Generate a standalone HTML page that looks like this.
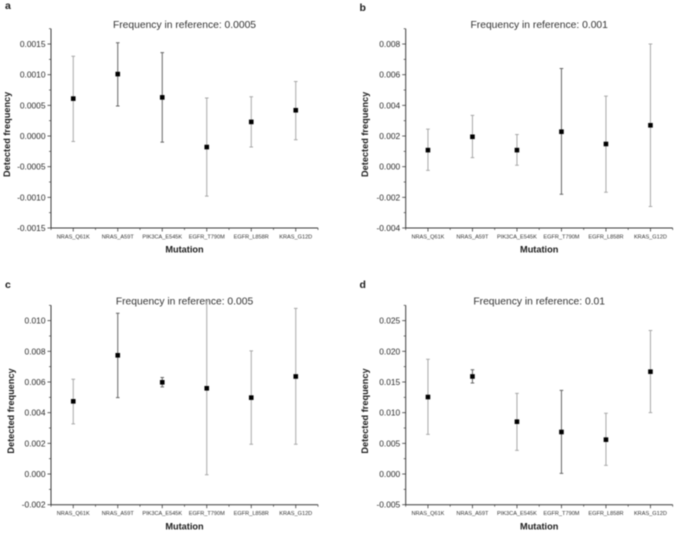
<!DOCTYPE html>
<html>
<head>
<meta charset="utf-8">
<title>Detected frequency by mutation</title>
<style>
html,body{margin:0;padding:0;background:#fff;width:675px;height:533px;overflow:hidden}
svg{display:block;filter:blur(0.4px)}
text{font-family:"Liberation Sans",Arial,sans-serif;fill:#1c1c1c}
</style>
</head>
<body>
<svg id="figure" width="675" height="533" viewBox="0 0 675 533" xmlns="http://www.w3.org/2000/svg"></svg>
<script>
const categories = ["NRAS_Q61K","NRAS_A59T","PIK3CA_E545K","EGFR_T790M","EGFR_L858R","KRAS_G12D"];

const aTicks = ["-0.0015","-0.0010","-0.0005","0.0000","0.0005","0.0010","0.0015"];
const aMeans = [0.00061,0.00101,0.00063,-0.00018,0.00023,0.00042];
const aUpper = [0.00130,0.00152,0.00136,0.00062,0.00064,0.00089];
const aLower = [-0.00009,0.00049,-0.00010,-0.00098,-0.00018,-0.00006];

const bTicks = ["-0.004","-0.002","0.000","0.002","0.004","0.006","0.008"];
const bMeans = [0.00108,0.00195,0.00108,0.00228,0.00148,0.00270];
const bUpper = [0.00245,0.00335,0.00210,0.00640,0.00460,0.00800];
const bLower = [-0.00024,0.00059,0.00009,-0.00180,-0.00167,-0.00260];

const cTicks = ["-0.002","0.000","0.002","0.004","0.006","0.008","0.010"];
const cMeans = [0.00474,0.00774,0.00598,0.00559,0.00498,0.00636];
const cUpper = [0.00618,0.01048,0.00629,0.01127,0.00803,0.01080];
const cLower = [0.00327,0.00498,0.00568,-0.00005,0.00194,0.00194];

const dTicks = ["-0.005","0.000","0.005","0.010","0.015","0.020","0.025"];
const dMeans = [0.01255,0.01590,0.00853,0.00685,0.00560,0.01668];
const dUpper = [0.01870,0.01700,0.01315,0.01364,0.00990,0.02340];
const dLower = [0.00647,0.01484,0.00386,0.00010,0.00140,0.01000];

const svgNS = "http://www.w3.org/2000/svg";
const root = document.getElementById("figure");

function make(tag, attrs, parent, txt) {
  const el = document.createElementNS(svgNS, tag);
  for (const k in attrs) el.setAttribute(k, attrs[k]);
  if (txt !== undefined) el.textContent = txt;
  parent.appendChild(el);
  return el;
}

function drawPanel(id, letter, lx, ly, title, box, ticks, means, upper, lower, shades, yTitleX) {
  const g = make("g", {}, root);
  
  

  const tickVals = ticks.map(Number);
  const step = tickVals[1] - tickVals[0];
  const yMin = tickVals[0];
  const yMax = tickVals[tickVals.length - 1] + step / 2;
  const yScale = v => box.bottom - (v - yMin) / (yMax - yMin) * (box.bottom - box.top);
  const xScale = i => box.left + (i + 0.5) * (box.right - box.left) / categories.length;
  const xEdge = i => box.left + i * (box.right - box.left) / categories.length;
  const axisColor = "#3c3c3c";
  const centerX = (box.left + box.right) / 2;

  const letterEl = make("text", {x: lx, y: ly, "font-size": 10.5, "font-weight": "bold"}, g, letter);
  
  

  const titleEl = make("text", {x: centerX, y: box.top - 0.7, "font-size": 10.3, "text-anchor": "middle", style: "fill:#333"}, g, title);
  
  

  const yAxis = make("line", {x1: box.left, x2: box.left, y1: box.top, y2: box.bottom + 0.5, stroke: axisColor, "stroke-width": 1}, g);
  
  

  const xAxis = make("line", {x1: box.left, x2: box.right, y1: box.bottom, y2: box.bottom, stroke: axisColor, "stroke-width": 1}, g);
  
  

  tickVals.forEach((v, i) => {
    const y = yScale(v);
    const t = make("line", {x1: box.left - 3.5, x2: box.left, y1: y, y2: y, stroke: axisColor, "stroke-width": 0.8}, g);
    
    
    const lab = make("text", {x: box.left - 5.5, y: y + 3, "font-size": 8.4, "text-anchor": "end", style: "fill:#2a2a2a"}, g, ticks[i]);
    
    
    const my = yScale(v + step / 2);
    const m = make("line", {x1: box.left - 2, x2: box.left, y1: my, y2: my, stroke: axisColor, "stroke-width": 0.7}, g);
    
    
  });

  for (let i = 0; i <= categories.length; i++) {
    const m = make("line", {x1: xEdge(i), x2: xEdge(i), y1: box.bottom, y2: box.bottom + 2, stroke: axisColor, "stroke-width": 0.7}, g);
    
    
  }

  categories.forEach((c, i) => {
    const x = xScale(i);
    const t = make("line", {x1: x, x2: x, y1: box.bottom, y2: box.bottom + 3.5, stroke: axisColor, "stroke-width": 0.8}, g);
    
    
    const lab = make("text", {x: x, y: box.bottom + 10.5, "font-size": 5.6, "text-anchor": "middle", style: "fill:#333"}, g, c);
    
    

    const yu = yScale(upper[i]), yl = yScale(lower[i]);
    const bar = make("path", {
      d: "M" + x + " " + yu + "V" + yl + "M" + (x - 1.8) + " " + yu + "H" + (x + 1.8) + "M" + (x - 1.8) + " " + yl + "H" + (x + 1.8),
      stroke: shades[i], "stroke-width": 1, fill: "none"
    }, g);
    
    

    const pt = make("rect", {x: x - 2.3, y: yScale(means[i]) - 2.3, width: 4.6, height: 4.6, fill: "#000"}, g);
    
    
  });

  const xTitle = make("text", {x: centerX, y: box.bottom + 24.7, "font-size": 9.2, "font-weight": "bold", "text-anchor": "middle"}, g, "Mutation");
  
  

  const yMid = (box.top + box.bottom) / 2 + 6;
  const yTitle = make("text", {x: yTitleX, y: yMid, "font-size": 9.2, "font-weight": "bold", "text-anchor": "middle", transform: "rotate(-90 " + yTitleX + " " + yMid + ")"}, g, "Detected frequency");
  
  
}

const light = "#a8a8a8", dark = "#666666";

drawPanel("a", "a", 5, 9, "Frequency in reference: 0.0005",
  {left: 51, right: 318, top: 28.7, bottom: 228},
  aTicks, aMeans, aUpper, aLower, [light, dark, dark, light, light, light], 10);

drawPanel("b", "b", 359.5, 11, "Frequency in reference: 0.001",
  {left: 405.7, right: 672.7, top: 28.7, bottom: 228},
  bTicks, bMeans, bUpper, bLower, [light, light, light, dark, light, light], 368);

drawPanel("c", "c", 5, 288, "Frequency in reference: 0.005",
  {left: 51, right: 318, top: 305.3, bottom: 504.7},
  cTicks, cMeans, cUpper, cLower, [light, dark, dark, light, light, light], 14);

drawPanel("d", "d", 359.5, 288, "Frequency in reference: 0.01",
  {left: 405.7, right: 672.7, top: 305.3, bottom: 504.7},
  dTicks, dMeans, dUpper, dLower, [light, dark, light, dark, light, light], 368);
</script>
</body>
</html>
